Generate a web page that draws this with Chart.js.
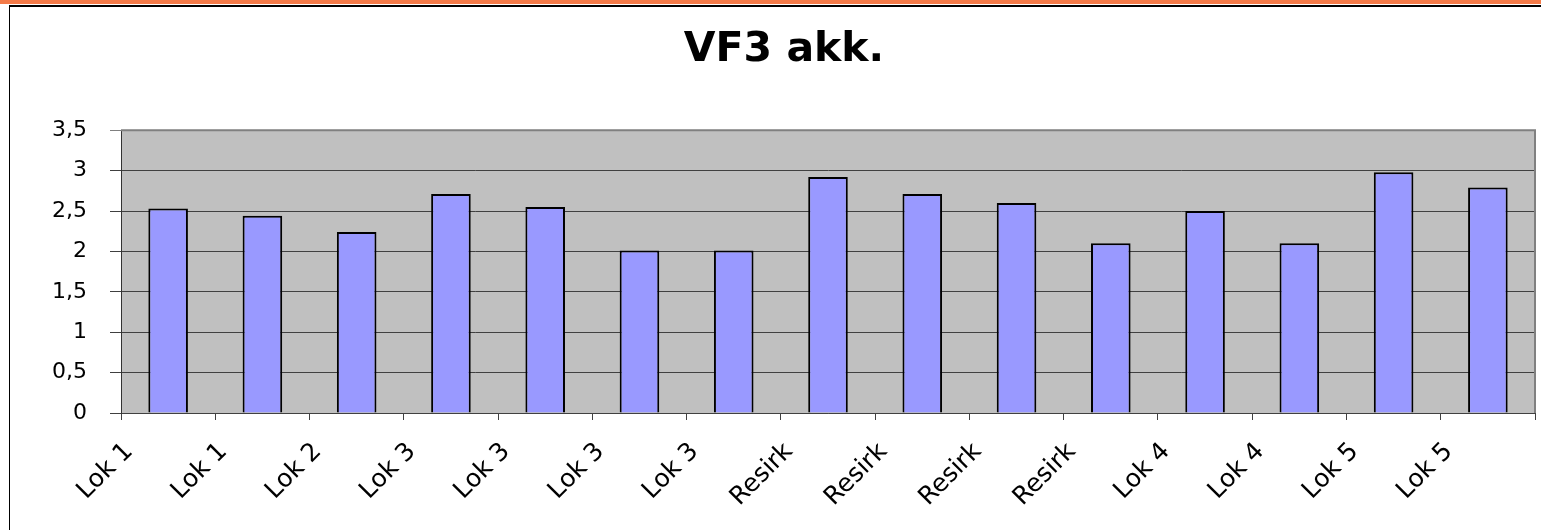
<!DOCTYPE html>
<html>
<head>
<meta charset="utf-8">
<title>VF3 akk.</title>
<script src="https://cdn.jsdelivr.net/npm/chart.js@4.4.1/dist/chart.umd.min.js"></script>
<style>
    html, body { margin: 0; padding: 0; background: #fff; }
    #wrap { position: relative; width: 1541px; height: 530px; overflow: hidden; }
    #band { position: absolute; left: 0; top: 0; width: 1541px; height: 4px; background: #F47A48; }
    #frame { position: absolute; left: 9px; top: 5px; width: 1600px; height: 600px;
             border-top: 2px solid #000; border-left: 1px solid #000; }
    #chart { position: absolute; left: 0; top: 0; }
</style>
</head>
<body>
<div id="wrap">
    <div id="band"></div>
    <div id="frame"></div>
    <canvas id="chart" width="1541" height="530"></canvas>
</div>
<script>
// Data
const categories = ['Lok 1', 'Lok 1', 'Lok 2', 'Lok 3', 'Lok 3', 'Lok 3', 'Lok 3',
                    'Resirk', 'Resirk', 'Resirk', 'Resirk', 'Lok 4', 'Lok 4', 'Lok 5', 'Lok 5'];
const values = [2.53, 2.44, 2.24, 2.71, 2.55, 2.01, 2.01, 2.92, 2.71, 2.6, 2.1, 2.5, 2.1, 2.98, 2.79];
const yMin = 0;
const yMax = 3.5;
const yStep = 0.5;
const chartTitle = 'VF3 akk.';

const FONT = "'DejaVu Sans', 'Liberation Sans', Arial, sans-serif";

// grey plot area with a grey frame on top/right, like the old Excel chart
const plotArea = {
    id: 'plotArea',
    beforeDraw(chart) {
        const { ctx, chartArea: a } = chart;
        ctx.save();
        ctx.fillStyle = '#C0C0C0';
        ctx.fillRect(a.left, a.top, a.right - a.left, a.bottom - a.top);
        ctx.restore();
    },
    beforeDatasetsDraw(chart) {
        const { ctx, chartArea: a } = chart;
        ctx.save();
        ctx.strokeStyle = '#808080';
        ctx.lineWidth = 2;
        ctx.beginPath();
        ctx.moveTo(a.left, a.top);
        ctx.lineTo(a.right, a.top);
        ctx.lineTo(a.right, a.bottom);
        ctx.stroke();
        ctx.restore();
    }
};

const ctx = document.getElementById('chart').getContext('2d');

new Chart(ctx, {
    type: 'bar',
    data: {
        labels: categories,
        datasets: [{
            label: chartTitle,
            data: values,
            backgroundColor: '#9999FF',
            borderColor: '#000000',
            borderWidth: 2,
            categoryPercentage: 1,
            barPercentage: 0.42
        }]
    },
    options: {
        responsive: false,
        animation: false,
        layout: {
            // left padding is larger so the title sits a bit right of centre, as in the original
            padding: { left: 33, right: 6, top: 0, bottom: 0 }
        },
        plugins: {
            legend: { display: false },
            tooltip: { enabled: false },
            title: {
                display: true,
                text: chartTitle,
                color: '#000',
                font: { family: FONT, size: 41, weight: 'bold', lineHeight: 1.2 },
                padding: { top: 26, bottom: 55 }
            }
        },
        scales: {
            x: {
                offset: true,
                grid: {
                    offset: true,
                    drawOnChartArea: false,
                    drawTicks: true,
                    tickLength: 7,
                    color: '#404040'
                },
                border: { display: true, color: '#404040', width: 1 },
                ticks: {
                    color: '#000',
                    font: { family: FONT, size: 25 },
                    minRotation: 45,
                    maxRotation: 45,
                    autoSkip: false,
                    padding: 17,
                    labelOffset: -39
                },
                afterFit(scale) {
                    scale.height = 117;
                }
            },
            y: {
                min: yMin,
                max: yMax,
                grid: {
                    color: (c) => (c.tick && c.tick.value === yMax ? '#808080' : '#404040'),
                    lineWidth: 1,
                    tickLength: 11,
                    drawTicks: true
                },
                border: { display: true, color: '#333', width: 1 },
                ticks: {
                    stepSize: yStep,
                    color: '#000',
                    font: { family: FONT, size: 22 },
                    padding: 23,
                    callback: (v) => String(v).replace('.', ',')
                },
                afterFit(scale) {
                    scale.width = 88;
                }
            }
        }
    },
    plugins: [plotArea]
});
</script>
</body>
</html>
